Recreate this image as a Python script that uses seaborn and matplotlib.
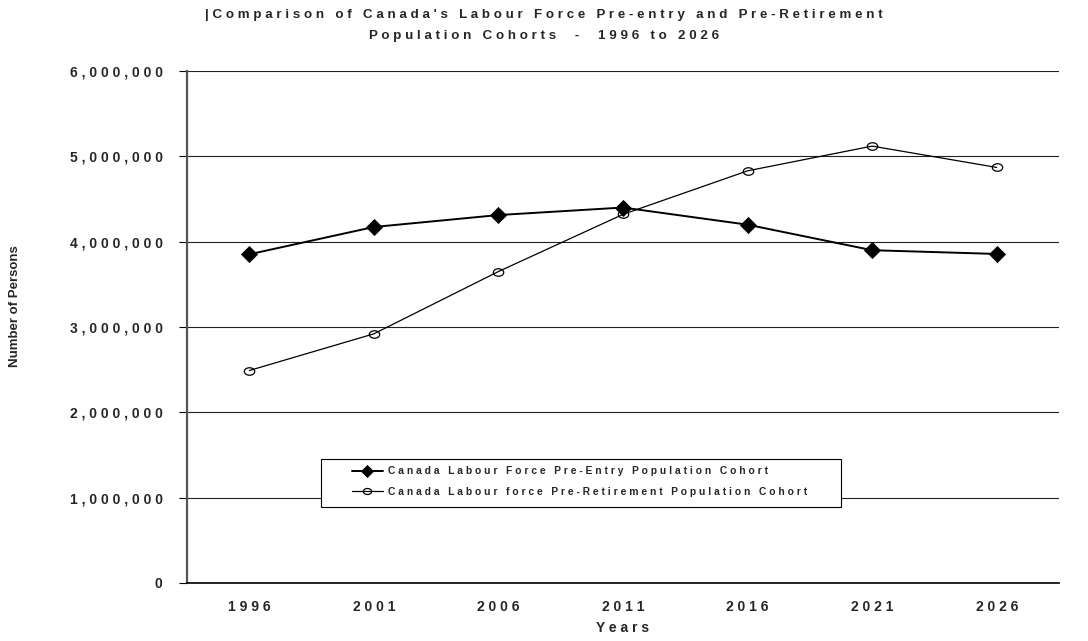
import numpy as np
import pandas as pd
import matplotlib
matplotlib.use("Agg")
import matplotlib.pyplot as plt
from matplotlib.path import Path
from matplotlib.patches import Rectangle
from matplotlib.transforms import Affine2D
import seaborn as sns

# Census years and the two population cohorts (persons)
years = ["1996", "2001", "2006", "2011", "2016", "2021", "2026"]
pre_entry = [3852000, 4172000, 4312000, 4400000, 4199000, 3900000, 3856000]
pre_retirement = [2490000, 2920000, 3650000, 4320000, 4830000, 5120000, 4870000]

y_ticks = [0, 1000000, 2000000, 3000000, 4000000, 5000000, 6000000]

title_lines = [
    "|Comparison of Canada's Labour Force Pre-entry and Pre-Retirement",
    "Population Cohorts  -  1996 to 2026",
]
entry_label = "Canada Labour Force Pre-Entry Population Cohort"
retire_label = "Canada Labour force Pre-Retirement Population Cohort"
x_title = "Years"
y_title = "Number of Persons"


def spaced(s):
    """Widen the tracking of a string by putting a space between glyphs."""
    return " ".join(list(s))


# Slightly flattened open circle for the pre-retirement series
flat_circle = Path.unit_circle().transformed(Affine2D().scale(1.0, 0.72))

sns.set_theme(style="white")
plt.rcParams["font.family"] = ["Liberation Sans", "DejaVu Sans"]
plt.rcParams["font.weight"] = "bold"

df_entry = pd.DataFrame({"Year": years, "Persons": pre_entry})
df_retire = pd.DataFrame({"Year": years, "Persons": pre_retirement})

fig = plt.figure(figsize=(10.88, 6.41), dpi=100)
ax = fig.add_axes([187 / 1088, 1 - 583 / 641, (1059 - 187) / 1088, (583 - 71) / 641])

sns.lineplot(data=df_entry, x="Year", y="Persons", ax=ax, color="black",
             linewidth=1.4, marker="D", markersize=8, markeredgewidth=0.6,
             markerfacecolor="black", markeredgecolor="black",
             label=spaced(entry_label), sort=False, zorder=4)
sns.lineplot(data=df_retire, x="Year", y="Persons", ax=ax, color="black",
             linewidth=0.9, marker=flat_circle, markersize=7.5, markeredgewidth=0.9,
             markerfacecolor="none", markeredgecolor="black",
             label=spaced(retire_label), sort=False, zorder=4)

# Axis limits, grid and ticks
ax.set_xlim(-0.5, len(years) - 0.5)
ax.set_ylim(0, 6000000)
ax.set_yticks(y_ticks)
ax.set_yticklabels([spaced(f"{v:,}") for v in y_ticks], fontsize=10, fontweight="bold")
ax.set_xticks(range(len(years)))
ax.set_xticklabels([spaced(y) for y in years], fontsize=10, fontweight="bold")
ax.set_xticks(np.arange(-0.5, len(years), 1), minor=True)
ax.tick_params(axis="x", which="major", length=0, pad=12)
ax.tick_params(axis="x", which="minor", length=6, width=0.8, color="black", direction="out")
ax.tick_params(axis="y", which="major", length=6, width=0.8, color="black", direction="out",
               pad=11.5, left=True)

ax.grid(axis="y", color="#222222", linewidth=0.8)
ax.grid(axis="x", visible=False)
ax.set_axisbelow(True)

for side in ["top", "right"]:
    ax.spines[side].set_visible(False)
ax.spines["left"].set_color("#555555")
ax.spines["left"].set_linewidth(1.6)
ax.spines["bottom"].set_color("black")
ax.spines["bottom"].set_linewidth(1.2)

ax.set_xlabel(spaced(x_title), fontsize=10, fontweight="bold", labelpad=5)
ax.set_ylabel("")
fig.text(15 / 1088, 1 - 306 / 641, y_title, rotation=90, ha="center", va="center",
         fontsize=9.5, fontweight="bold")

# Title
fig.text(0.5, 1 - 15 / 641, spaced(title_lines[0]), ha="center", va="center",
         fontsize=9.6, fontweight="bold")
fig.text(0.5, 1 - 36 / 641, spaced(title_lines[1]), ha="center", va="center",
         fontsize=9.6, fontweight="bold")

# Legend: white framed box over the gridlines, entries inset from its left edge
ax.add_patch(Rectangle((0.1536, 0.1484), 0.5963, 0.0938, transform=ax.transAxes,
                       facecolor="white", edgecolor="black", linewidth=0.8,
                       zorder=5, clip_on=False))
leg = ax.legend(loc="center left", bbox_to_anchor=(0.1892, 0.198),
                frameon=False, prop={"size": 7.4, "weight": "bold"},
                handlelength=3.0, handletextpad=0.55, borderpad=0,
                labelspacing=1.05, borderaxespad=0, markerscale=0.8)
leg.set_zorder(6)

fig.savefig("out.png", dpi=100, facecolor="white")
